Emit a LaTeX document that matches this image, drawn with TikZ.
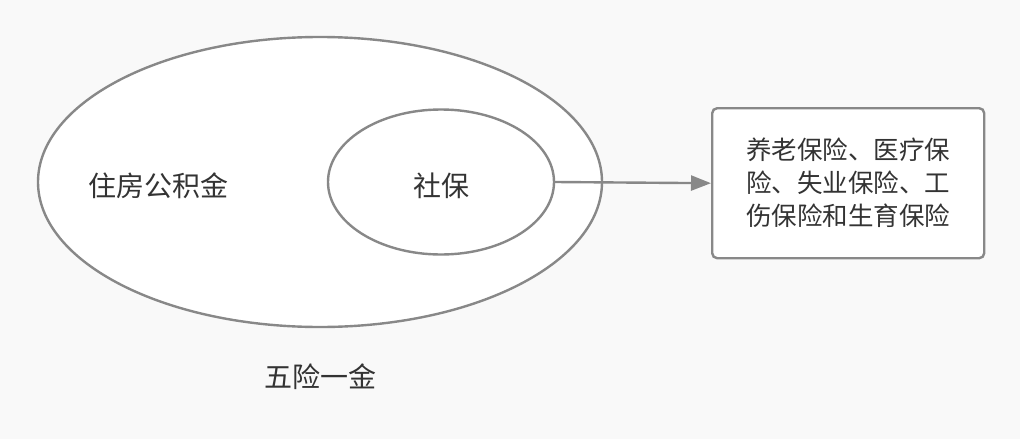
\documentclass[tikz,border=0pt]{standalone}
\usepackage{fontspec}
\setmainfont{Noto Sans CJK SC}
\usetikzlibrary{arrows.meta,shapes.geometric}
\definecolor{ln}{HTML}{888888}
\definecolor{tx}{HTML}{333333}
\definecolor{bg}{HTML}{F9F9F9}
\begin{document}
\begin{tikzpicture}[x=1pt,y=-1pt,
  shp/.style={draw=ln,line width=2.4pt,fill=white},
  lbl/.style={text=tx,font=\fontsize{28}{34}\selectfont}]
\fill[bg] (0,0) rectangle (1020,439);
\useasboundingbox (0,0) rectangle (1020,439);
\draw[shp] (320,182) ellipse [x radius=282,y radius=145];
\node[shp,ellipse,minimum width=226pt,minimum height=145pt,inner sep=0pt] (so) at (441,182) {};
\node[lbl] at (441,186) {社保};
\node[lbl] at (158,186) {住房公积金};
\node[lbl] at (320,377) {五险一金};
\node[shp,rounded corners=5pt,minimum width=272pt,minimum height=150pt,anchor=north west,inner sep=0pt] (box) at (711,107) {};
\node[text=tx,font=\fontsize{25.5}{33}\selectfont,align=center] at (box.center) {养老保险、医疗保\\险、失业保险、工\\伤保险和生育保险};
\draw[draw=ln,line width=2.4pt,-{Triangle[length=20pt,width=15pt]}] (so.east) -- (box.west);
\end{tikzpicture}
\end{document}
